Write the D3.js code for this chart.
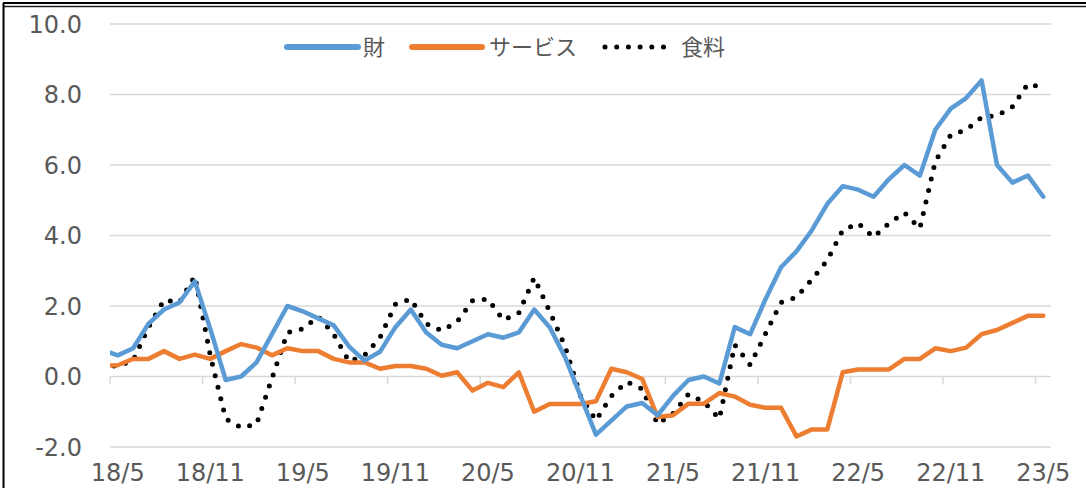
<!DOCTYPE html>
<html>
<head>
<meta charset="utf-8">
<script src="https://cdn.jsdelivr.net/npm/d3@7"></script>
<style>
  html, body { margin: 0; padding: 0; background: #fff; }
  svg { display: block; }
</style>
</head>
<body>
<div id="viz"></div>
<script>
// monthly values, first point sits half a month left of 18/5 and is clipped
const goods = [0.75, 0.6, 0.8, 1.5, 1.9, 2.1, 2.7, 1.35, -0.1, 0.0, 0.4, 1.2, 2.0, 1.85, 1.65, 1.45,
  0.85, 0.45, 0.7, 1.4, 1.9, 1.25, 0.9, 0.8, 1.0, 1.2, 1.1, 1.25, 1.9, 1.4, 0.55, -0.55,
  -1.65, -1.25, -0.85, -0.75, -1.1, -0.55, -0.1, 0.0, -0.2, 1.4, 1.2, 2.2, 3.1, 3.55,
  4.15, 4.9, 5.4, 5.3, 5.1, 5.6, 6.0, 5.7, 7.0, 7.6, 7.9, 8.4, 6.0, 5.5, 5.7, 5.1];
const services = [0.3, 0.32, 0.5, 0.5, 0.72, 0.5, 0.62, 0.5, 0.72, 0.92, 0.82, 0.6, 0.8, 0.72, 0.72, 0.5,
  0.4, 0.4, 0.22, 0.3, 0.3, 0.22, 0.02, 0.12, -0.4, -0.18, -0.3, 0.12, -1.0, -0.78, -0.78, -0.78,
  -0.7, 0.22, 0.12, -0.07, -1.15, -1.1, -0.77, -0.77, -0.47, -0.57, -0.8, -0.89, -0.89, -1.7,
  -1.5, -1.5, 0.12, 0.2, 0.2, 0.2, 0.5, 0.5, 0.8, 0.72, 0.82, 1.2, 1.32, 1.52, 1.72, 1.72];
const food = [0.3, 0.3, 0.45, 1.4, 2.17, 2.1, 2.85, 0.6, -1.2, -1.45, -1.35, -0.05, 1.25, 1.35, 1.7, 1.2,
  0.42, 0.6, 1.1, 2.05, 2.2, 1.5, 1.3, 1.55, 2.15, 2.2, 1.6, 1.8, 2.8, 1.85, 0.85, -0.55,
  -1.25, -0.55, -0.15, -0.35, -1.35, -1.05, -0.5, -0.72, -1.2, 0.9, 0.33, 1.22, 2.1, 2.25,
  2.75, 3.3, 4.15, 4.35, 3.95, 4.35, 4.65, 4.2, 6.1, 6.85, 7.0, 7.35, 7.4, 7.65, 8.3, 8.2];

const tickLabels = ["18/5", "18/11", "19/5", "19/11", "20/5", "20/11", "21/5", "21/11", "22/5", "22/11", "23/5"];
const yTicks = [-2, 0, 2, 4, 6, 8, 10];

const seriesNames = ["財", "サービス", "食料"];
const colors = ["#5B9BD5", "#ED7D31", "#000"];

const W = 1086, H = 488;
const svg = d3.select("#viz").append("svg")
  .attr("width", W)
  .attr("height", H);

const x = d3.scaleLinear().domain([0, 61]).range([110, 1051]);
const y = d3.scaleLinear().domain([-2, 10]).range([447, 24]);

// frame
svg.append("line").attr("x1", 3).attr("x2", W).attr("y1", 3).attr("y2", 3)
  .attr("stroke", "#000").attr("stroke-width", 2);
svg.append("line").attr("x1", 3).attr("x2", W).attr("y1", 6.5).attr("y2", 6.5)
  .attr("stroke", "#222").attr("stroke-width", 1.5);
svg.append("line").attr("x1", 3.5).attr("x2", 3.5).attr("y1", 3).attr("y2", H)
  .attr("stroke", "#000").attr("stroke-width", 2);

// gridlines
svg.append("g")
  .selectAll("line")
  .data(yTicks)
  .enter().append("line")
  .attr("x1", x(0))
  .attr("x2", x(61))
  .attr("y1", d => y(d))
  .attr("y2", d => y(d))
  .attr("stroke", "#d9d9d9")
  .attr("stroke-width", 1.5);

// y labels (plain hyphen for negatives, like the source)
const fmt = d3.format(".1f");
svg.append("g")
  .selectAll("text")
  .data(yTicks)
  .enter().append("text")
  .attr("x", 82)
  .attr("y", d => y(d))
  .attr("dy", "0.36em")
  .attr("text-anchor", "end")
  .attr("font-family", "'DejaVu Sans', 'Noto Sans', sans-serif")
  .attr("font-size", 24)
  .attr("fill", "#595959")
  .text(d => fmt(d).replace("\u2212", "-"));

// x ticks on the zero line
const tickPos = tickLabels.map((d, i) => i * 6);
svg.append("g")
  .selectAll("line")
  .data(tickPos)
  .enter().append("line")
  .attr("x1", d => x(d))
  .attr("x2", d => x(d))
  .attr("y1", y(0))
  .attr("y2", y(0) + 8)
  .attr("stroke", "#d9d9d9")
  .attr("stroke-width", 1.5);

svg.append("g")
  .selectAll("text")
  .data(tickLabels)
  .enter().append("text")
  .attr("x", (d, i) => x(tickPos[i] + 0.5))
  .attr("y", 481)
  .attr("text-anchor", "middle")
  .attr("font-family", "'DejaVu Sans', 'Noto Sans', sans-serif")
  .attr("font-size", 24)
  .attr("fill", "#595959")
  .text(d => d);

// clip
svg.append("clipPath").attr("id", "plotClip")
  .append("rect")
  .attr("x", x(0)).attr("y", 0)
  .attr("width", x(61) - x(0)).attr("height", H);

const line = d3.line()
  .x((d, i) => x(i - 0.5))
  .y(d => y(d));

const plot = svg.append("g").attr("clip-path", "url(#plotClip)");

plot.append("path")
  .datum(food)
  .attr("d", line)
  .attr("fill", "none")
  .attr("stroke", colors[2])
  .attr("stroke-width", 5)
  .attr("stroke-linecap", "round")
  .attr("stroke-dasharray", "0 11.8");

plot.append("path")
  .datum(services)
  .attr("d", line)
  .attr("fill", "none")
  .attr("stroke", colors[1])
  .attr("stroke-width", 4.5)
  .attr("stroke-linejoin", "round")
  .attr("stroke-linecap", "round");

plot.append("path")
  .datum(goods)
  .attr("d", line)
  .attr("fill", "none")
  .attr("stroke", colors[0])
  .attr("stroke-width", 4.5)
  .attr("stroke-linejoin", "round")
  .attr("stroke-linecap", "round");

// legend
const legendItems = [
  { x1: 287, x2: 358, tx: 363, dash: null },
  { x1: 412, x2: 482, tx: 489, dash: null },
  { x1: 605, x2: 666, tx: 681, dash: "0 11.7" }
];
const legend = svg.append("g");
legendItems.forEach((d, i) => {
  legend.append("line")
    .attr("x1", d.x1).attr("x2", d.x2)
    .attr("y1", 47).attr("y2", 47)
    .attr("stroke", colors[i])
    .attr("stroke-width", i === 2 ? 5 : 6)
    .attr("stroke-linecap", "round")
    .attr("stroke-dasharray", d.dash);
  legend.append("text")
    .attr("x", d.tx)
    .attr("y", 47)
    .attr("dy", "0.36em")
    .attr("font-family", "'Noto Sans CJK JP', sans-serif")
    .attr("font-size", 22)
    .attr("fill", "#595959")
    .text(seriesNames[i]);
});
</script>
</body>
</html>
